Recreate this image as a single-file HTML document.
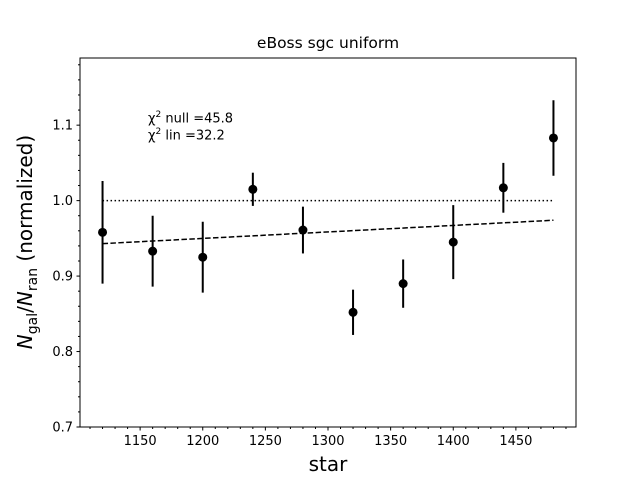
<!DOCTYPE html>
<html><head><meta charset="utf-8"><style>body{margin:0;background:#fff}svg{display:block;font-family:"DejaVu Sans","Liberation Sans",sans-serif}</style></head>
<body>
<svg id="c" width="640" height="480" viewBox="0 0 640 480"></svg>
<script>
const xs=[1120,1160,1200,1240,1280,1320,1360,1400,1440,1480];
const ys=[0.958,0.933,0.925,1.015,0.961,0.852,0.890,0.945,1.017,1.083];
const errs=[0.068,0.047,0.047,0.022,0.031,0.030,0.032,0.049,0.033,0.050];
const linFit=[0.943,0.974];
const nullLevel=1.0;
const xTicks=[1150,1200,1250,1300,1350,1400,1450];
const yTicks=[0.7,0.8,0.9,1.0,1.1];
const L=80,R=576,T=58,B=427,x0=1102,x1=1498,y0=0.7,y1=1.189;
const X=v=>L+(v-x0)/(x1-x0)*(R-L), Y=v=>B-(v-y0)/(y1-y0)*(B-T);
const s=document.getElementById('c'),NS='http://www.w3.org/2000/svg';
function mk(t,a,p){const e=document.createElementNS(NS,t);for(const k in a)e.setAttribute(k,a[k]);(p||s).appendChild(e);return e;}
let e;
e=mk('line',{x1:X(xs[0]),x2:X(xs[xs.length-1]),y1:Y(nullLevel),y2:Y(nullLevel),stroke:'#000','stroke-width':1.5,'stroke-dasharray':'1.5,2.5'});

e=mk('line',{x1:X(xs[0]),x2:X(xs[xs.length-1]),y1:Y(linFit[0]),y2:Y(linFit[1]),stroke:'#000','stroke-width':1.5,'stroke-dasharray':'5.5,2.4'});

xs.forEach((x,i)=>{
 e=mk('line',{x1:X(x),x2:X(x),y1:Y(ys[i]+errs[i]),y2:Y(ys[i]-errs[i]),stroke:'#000','stroke-width':2});
 
 e=mk('circle',{cx:X(x),cy:Y(ys[i]),r:4.5,fill:'#000'});
 
});
e=mk('rect',{x:L,y:T,width:R-L,height:B-T,fill:'none',stroke:'#000','stroke-width':1});

for(let v=1110;v<=1490;v+=10){const M=v%50===0;e=mk('line',{x1:X(v),x2:X(v),y1:B,y2:B+(M?3.5:2),stroke:'#000'});}
xTicks.forEach(v=>{e=mk('text',{x:X(v),y:B+18,'font-size':13,'text-anchor':'middle'});e.textContent=v;});
for(let k=0;k<=24;k++){const v=0.7+k*0.02;const M=k%5===0;e=mk('line',{x1:L,x2:L-(M?3.5:2),y1:Y(v),y2:Y(v),stroke:'#000'});}
yTicks.forEach(v=>{e=mk('text',{x:L-7,y:Y(v)+4.5,'font-size':13,'text-anchor':'end'});e.textContent=v.toFixed(1);});
</script>
<svg width="0" height="0"></svg>
<div style="position:absolute;left:0;top:0;width:640px;height:480px;pointer-events:none;font-family:'DejaVu Sans','Liberation Sans',sans-serif">
<div style="position:absolute;left:80px;width:496px;top:34px;text-align:center;font-size:15.5px">eBoss sgc uniform</div>
<div style="position:absolute;left:80px;width:496px;top:452px;text-align:center;font-size:20px">star</div>
<div style="position:absolute;left:27px;top:242px;transform:translate(-50%,-50%) rotate(-90deg);white-space:nowrap;font-size:20px"><i>N</i><sub style="font-size:14px">gal</sub>/<i>N</i><sub style="font-size:14px">ran</sub> (normalized)</div>
<div style="position:absolute;left:148px;top:110px;font-size:13px">χ<sup style="font-size:9px">2</sup> null =45.8</div>
<div style="position:absolute;left:148px;top:127px;font-size:13px">χ<sup style="font-size:9px">2</sup> lin =32.2</div>
</div>
</body></html>
